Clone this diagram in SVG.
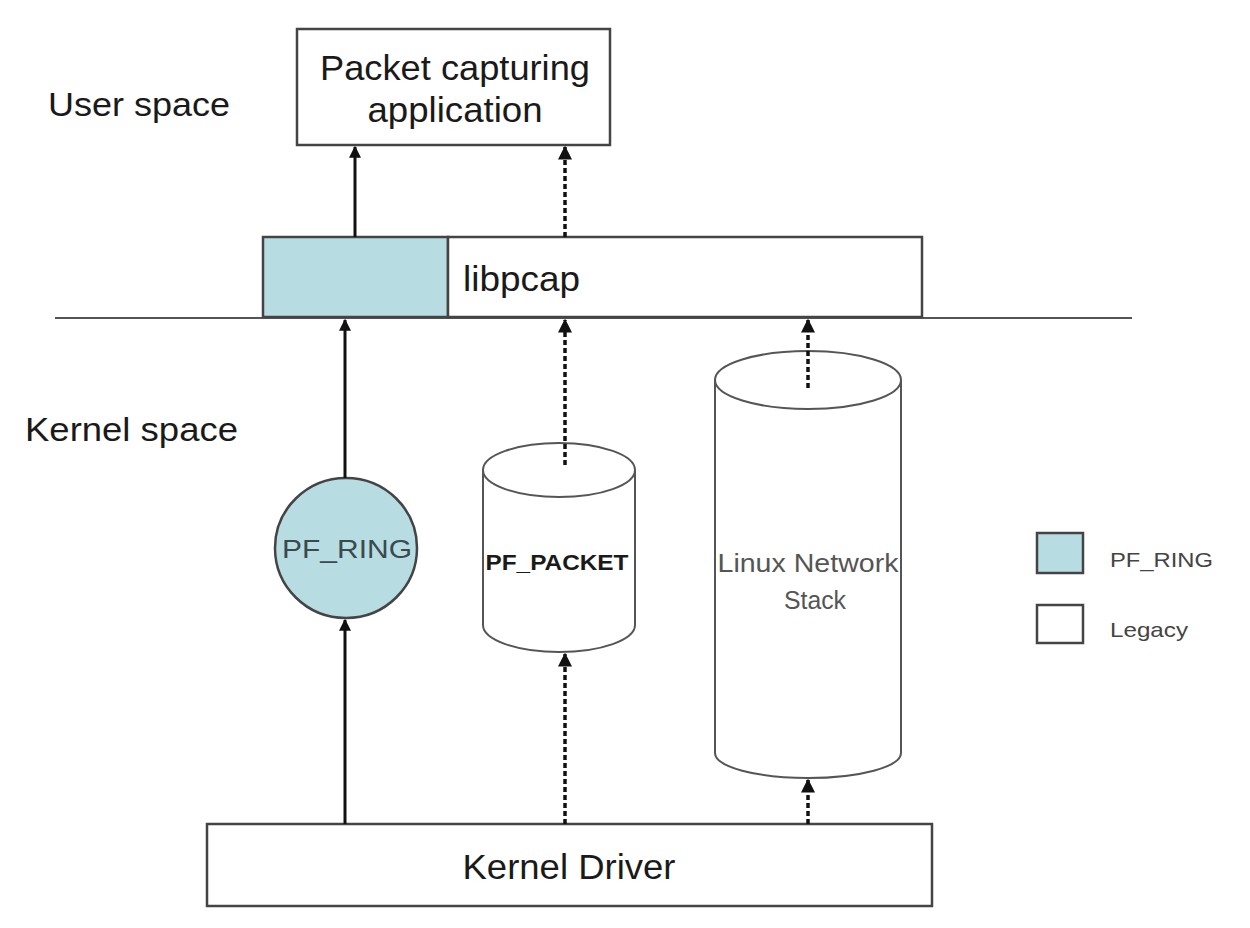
<svg xmlns="http://www.w3.org/2000/svg" width="1250" height="928" viewBox="0 0 1250 928">
<defs>
<style>
.box{fill:#fff;stroke:#444;stroke-width:2.5}
.ring{fill:#b7dde2;stroke:#444;stroke-width:2.5}
.cyl{fill:#fff;stroke:#555;stroke-width:2}
.t{font-family:"Liberation Sans",Arial,sans-serif;fill:#1a1a1a}
.solid{stroke:#111;stroke-width:3;fill:none}
.dash{stroke:#111;stroke-width:3.5;fill:none;stroke-dasharray:5 3}
</style>
<marker id="ah" viewBox="0 0 10 10" refX="9" refY="5" markerWidth="4" markerHeight="4" orient="auto" markerUnits="strokeWidth">
<path d="M0,0 L10,5 L0,10 z" fill="#111"/>
</marker>
</defs>
<rect width="1250" height="928" fill="#fff"/>
<text class="t" x="48" y="116" font-size="34" textLength="182" lengthAdjust="spacingAndGlyphs">User space</text>
<text class="t" x="25" y="441" font-size="34" textLength="213" lengthAdjust="spacingAndGlyphs">Kernel space</text>
<line x1="55" y1="318" x2="1132" y2="318" stroke="#555" stroke-width="2"/>
<g id="app">
<rect class="box" x="297" y="29" width="313" height="116"/>
<text class="t" x="455" y="80" font-size="35" text-anchor="middle" textLength="270" lengthAdjust="spacingAndGlyphs">Packet capturing</text>
<text class="t" x="455" y="122" font-size="35" text-anchor="middle" textLength="175" lengthAdjust="spacingAndGlyphs">application</text>
</g>
<g id="libpcap">
<rect class="ring" x="263" y="237" width="185" height="80"/>
<rect class="box" x="448" y="237" width="474" height="80"/>
<text class="t" x="463" y="291" font-size="35" textLength="117" lengthAdjust="spacingAndGlyphs">libpcap</text>
</g>
<g id="pfring">
<ellipse class="ring" cx="346" cy="548" rx="71" ry="70"/>
<text class="t" x="347" y="558" font-size="26" text-anchor="middle" textLength="130" lengthAdjust="spacingAndGlyphs" style="fill:#3a4a50">PF_RING</text>
</g>
<g id="pfpacket">
<path class="cyl" d="M483,470 L483,625 A76,27 0 0 0 635,625 L635,470"/>
<ellipse class="cyl" cx="559" cy="470" rx="76" ry="27"/>
<text class="t" x="557" y="570" font-size="22" font-weight="bold" text-anchor="middle" textLength="143" lengthAdjust="spacingAndGlyphs">PF_PACKET</text>
</g>
<g id="linuxstack">
<path class="cyl" d="M715,380 L715,753 A93,25 0 0 0 901,753 L901,380"/>
<ellipse class="cyl" cx="808" cy="380" rx="93" ry="29"/>
<text class="t" x="808" y="572" font-size="25" text-anchor="middle" textLength="181" lengthAdjust="spacingAndGlyphs" style="fill:#555">Linux Network</text>
<text class="t" x="815" y="609" font-size="25" text-anchor="middle" textLength="62" lengthAdjust="spacingAndGlyphs" style="fill:#555">Stack</text>
</g>
<g id="driver">
<rect class="box" x="207" y="824" width="725" height="82"/>
<text class="t" x="569" y="879" font-size="35" text-anchor="middle" textLength="213" lengthAdjust="spacingAndGlyphs">Kernel Driver</text>
</g>
<g id="legend">
<rect class="ring" x="1037" y="533" width="46" height="40"/>
<text class="t" x="1110" y="567" font-size="21" textLength="103" lengthAdjust="spacingAndGlyphs" style="fill:#444">PF_RING</text>
<rect class="box" x="1037" y="605" width="46" height="38"/>
<text class="t" x="1110" y="637" font-size="21" textLength="78" lengthAdjust="spacingAndGlyphs" style="fill:#444">Legacy</text>
</g>
<g id="connectors">
<line class="solid" x1="355" y1="237" x2="355" y2="147" marker-end="url(#ah)"/>
<line class="dash" x1="565" y1="237" x2="565" y2="147" marker-end="url(#ah)"/>
<line class="solid" x1="345" y1="478" x2="345" y2="320" marker-end="url(#ah)"/>
<line class="dash" x1="565" y1="465" x2="565" y2="320" marker-end="url(#ah)"/>
<line class="dash" x1="808" y1="388" x2="808" y2="320" marker-end="url(#ah)"/>
<line class="solid" x1="345" y1="824" x2="345" y2="620" marker-end="url(#ah)"/>
<line class="dash" x1="565" y1="824" x2="565" y2="654" marker-end="url(#ah)"/>
<line class="dash" x1="808" y1="824" x2="808" y2="780" marker-end="url(#ah)"/>
</g>
</svg>
